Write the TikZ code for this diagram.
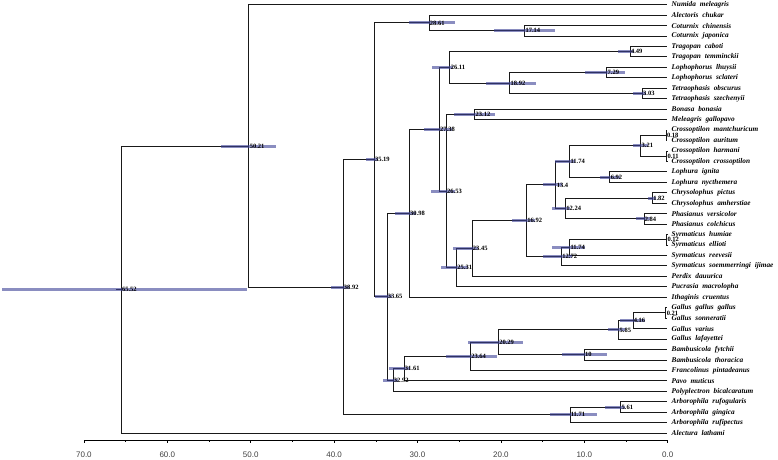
\documentclass[tikz,border=0pt]{standalone}
\usepackage{fontspec}
\setmainfont{Liberation Serif}
\newfontfamily\taxfont[WordSpace=2.1]{Liberation Serif}
\newfontfamily\axfont{Liberation Sans}
\definecolor{hpdcol}{RGB}{60,65,150}
\begin{document}
\begin{tikzpicture}[x=1pt,y=-1pt,
  declare function={tx(\t)=667.7-8.34*\t;},
  br/.style={draw=black!90, line width=1pt},
  hpd/.style={draw=hpdcol, line width=3pt, opacity=0.6},
  taxon/.style={anchor=west, inner sep=0pt, font=\taxfont\bfseries\itshape\fontsize{7.3}{9}\selectfont},
  age/.style={anchor=west, inner sep=0.6pt, font=\bfseries\fontsize{6.5}{7}\selectfont},
  axlab/.style={font=\axfont\fontsize{8}{9}\selectfont, text=black!75}]
\useasboundingbox (0,0) rectangle (778,459);

% leaves
\foreach \i/\name in {1/Numida meleagris, 2/Alectoris chukar, 3/Coturnix chinensis,
  4/Coturnix japonica, 5/Tragopan caboti, 6/Tragopan temminckii, 7/Lophophorus lhuysii,
  8/Lophophorus sclateri, 9/Tetraophasis obscurus, 10/Tetraophasis szechenyii,
  11/Bonasa bonasia, 12/Meleagris gallopavo, 13/Crossoptilon mantchuricum,
  14/Crossoptilon auritum, 15/Crossoptilon harmani, 16/Crossoptilon crossoptilon,
  17/Lophura ignita, 18/Lophura nycthemera, 19/Chrysolophus pictus,
  20/Chrysolophus amherstiae, 21/Phasianus versicolor, 22/Phasianus colchicus,
  23/Syrmaticus humiae, 24/Syrmaticus ellioti, 25/Syrmaticus reevesii,
  26/Syrmaticus soemmerringi ijimae, 27/Perdix dauurica, 28/Pucrasia macrolopha,
  29/Ithaginis cruentus, 30/Gallus gallus gallus, 31/Gallus sonneratii,
  32/Gallus varius, 33/Gallus lafayettei, 34/Bambusicola fytchii,
  35/Bambusicola thoracica, 36/Francolinus pintadeanus, 37/Pavo muticus,
  38/Polyplectron bicalcaratum, 39/Arborophila rufogularis, 40/Arborophila gingica,
  41/Arborophila rufipectus, 42/Alectura lathami}{
  \coordinate (l\i) at (667,{4.7+10.45*(\i-1)});
  \node[taxon] (t\i) at (671.5,{4.7+10.45*(\i-1)}) {\name};
}

% internal nodes
\coordinate (n6552) at ({tx(65.52)},289.585);
\coordinate (n5021) at ({tx(50.21)},146.019);
\coordinate (n3892) at ({tx(38.92)},287.338);
\coordinate (n3519) at ({tx(35.19)},159.813);
\coordinate (n2861) at ({tx(28.61)},22.99);
\coordinate (n1714) at ({tx(17.14)},30.825);
\coordinate (n3365) at ({tx(33.65)},296.636);
\coordinate (n3098) at ({tx(30.98)},213.27);
\coordinate (n2738) at ({tx(27.38)},129.243);
\coordinate (n2611) at ({tx(26.11)},67.4);
\coordinate (n449)  at ({tx(4.49)},51.725);
\coordinate (n1892) at ({tx(18.92)},83.075);
\coordinate (n729)  at ({tx(7.29)},72.625);
\coordinate (n303)  at ({tx(3.03)},93.525);
\coordinate (n2653) at ({tx(26.53)},191.086);
\coordinate (n2312) at ({tx(23.12)},114.425);
\coordinate (n2531) at ({tx(25.31)},267.746);
\coordinate (n2345) at ({tx(23.45)},248.642);
\coordinate (n1692) at ({tx(16.92)},220.884);
\coordinate (n134)  at ({tx(13.4)},184.9625);
\coordinate (n1174a) at ({tx(11.74)},161.45);
\coordinate (n321)  at ({tx(3.21)},145.775);
\coordinate (n018)  at ({tx(0.18)},135.325);
\coordinate (n011)  at ({tx(0.11)},156.225);
\coordinate (n692)  at ({tx(6.92)},177.125);
\coordinate (n1224) at ({tx(12.24)},208.475);
\coordinate (n182)  at ({tx(1.82)},198.025);
\coordinate (n284)  at ({tx(2.84)},218.925);
\coordinate (n1272) at ({tx(12.72)},256.806);
\coordinate (n1174b) at ({tx(11.74)},247.6625);
\coordinate (n012)  at ({tx(0.12)},239.825);
\coordinate (n3292) at ({tx(32.92)},380.002);
\coordinate (n3161) at ({tx(31.61)},368.654);
\coordinate (n2364) at ({tx(23.64)},356.408);
\coordinate (n2029) at ({tx(20.29)},342.366);
\coordinate (n585)  at ({tx(5.85)},329.956);
\coordinate (n416)  at ({tx(4.16)},320.8125);
\coordinate (n021)  at ({tx(0.21)},312.975);
\coordinate (n10)   at ({tx(10)},354.775);
\coordinate (n1171) at ({tx(11.71)},414.8625);
\coordinate (n561)  at ({tx(5.61)},407.025);
\coordinate (root)  at ({tx(65.52)-5},289.585);

% branches
\draw[br] (root) -- (n6552);
\foreach \p/\c in {n6552/n5021, n6552/l42, n5021/l1, n5021/n3892, n3892/n3519, n3892/n1171,
  n3519/n2861, n3519/n3365, n2861/l2, n2861/n1714, n1714/l3, n1714/l4,
  n3365/n3098, n3365/n3292, n3098/n2738, n3098/l29, n2738/n2611, n2738/n2653,
  n2611/n449, n2611/n1892, n449/l5, n449/l6, n1892/n729, n1892/n303,
  n729/l7, n729/l8, n303/l9, n303/l10, n2653/n2312, n2653/n2531, n2312/l11, n2312/l12,
  n2531/n2345, n2531/l28, n2345/n1692, n2345/l27, n1692/n134, n1692/n1272,
  n134/n1174a, n134/n1224, n1174a/n321, n1174a/n692, n321/n018, n321/n011,
  n018/l13, n018/l14, n011/l15, n011/l16, n692/l17, n692/l18,
  n1224/n182, n1224/n284, n182/l19, n182/l20, n284/l21, n284/l22,
  n1272/n1174b, n1272/l26, n1174b/n012, n1174b/l25, n012/l23, n012/l24,
  n3292/n3161, n3292/l38, n3161/n2364, n3161/l37, n2364/n2029, n2364/l36,
  n2029/n585, n2029/n10, n585/n416, n585/l33, n416/n021, n416/l32,
  n021/l30, n021/l31, n10/l34, n10/l35, n1171/n561, n1171/l41, n561/l39, n561/l40}{
  \draw[br] (\p) |- (\c);
}

% HPD bars
\foreach \n/\a/\b in {n6552/2/247, n5021/221/276, n3892/331/349, n3519/366/378,
  n2861/409/455, n1714/494/555, n2611/432/453, n1892/486/536, n449/618/634,
  n729/585/625, n303/633/646, n2738/424/452, n2312/454/495, n2653/431/455,
  n3098/395/416, n3365/375/392, n2531/441/468, n2345/453/478, n1692/512/535,
  n134/543/562, n1174a/555/575, n321/633/648, n692/600/620, n1224/552/570,
  n182/648/656, n284/636/650, n1272/543/572, n1174b/552/585, n2029/468/523,
  n2364/446/497, n3161/389/410, n3292/383/398, n585/608/625, n416/620/645,
  n10/562/607, n1171/550/597, n561/605/625}{
  \draw[hpd] (\n -| {(\a,0)}) -- (\n -| {(\b,0)});
}

% node ages
\foreach \n/\v in {n6552/65.52, n5021/50.21, n3892/38.92, n3519/35.19, n2861/28.61,
  n1714/17.14, n3365/33.65, n3098/30.98, n2738/27.38, n2611/26.11, n449/4.49,
  n1892/18.92, n729/7.29, n303/3.03, n2653/26.53, n2312/23.12, n2531/25.31,
  n2345/23.45, n1692/16.92, n134/13.4, n1174a/11.74, n321/3.21, n018/0.18,
  n011/0.11, n692/6.92, n1224/12.24, n182/1.82, n284/2.84, n1272/12.72,
  n1174b/11.74, n012/0.12, n3292/32.92, n3161/31.61, n2364/23.64, n2029/20.29,
  n585/5.85, n416/4.16, n021/0.21, n10/10, n1171/11.71, n561/5.61}{
  \node[age] at (\n) {\v};
}

% time axis
\coordinate (a70) at ({tx(70)},440.7);
\coordinate (a0) at ({tx(0)},440.7);
\draw[line width=0.8pt] (a70) -- (a0);
\foreach \v in {0,10,...,70}{
  \draw[line width=0.8pt] ({tx(\v)},440.7) -- ++(0,2.5);
  \node[axlab] at ({tx(\v)},455) {\v.0};
}
\foreach \v in {5,15,...,65}{
  \draw[line width=0.6pt] ({tx(\v)},440.7) -- ++(0,1.5);
}
\end{tikzpicture}
\end{document}
